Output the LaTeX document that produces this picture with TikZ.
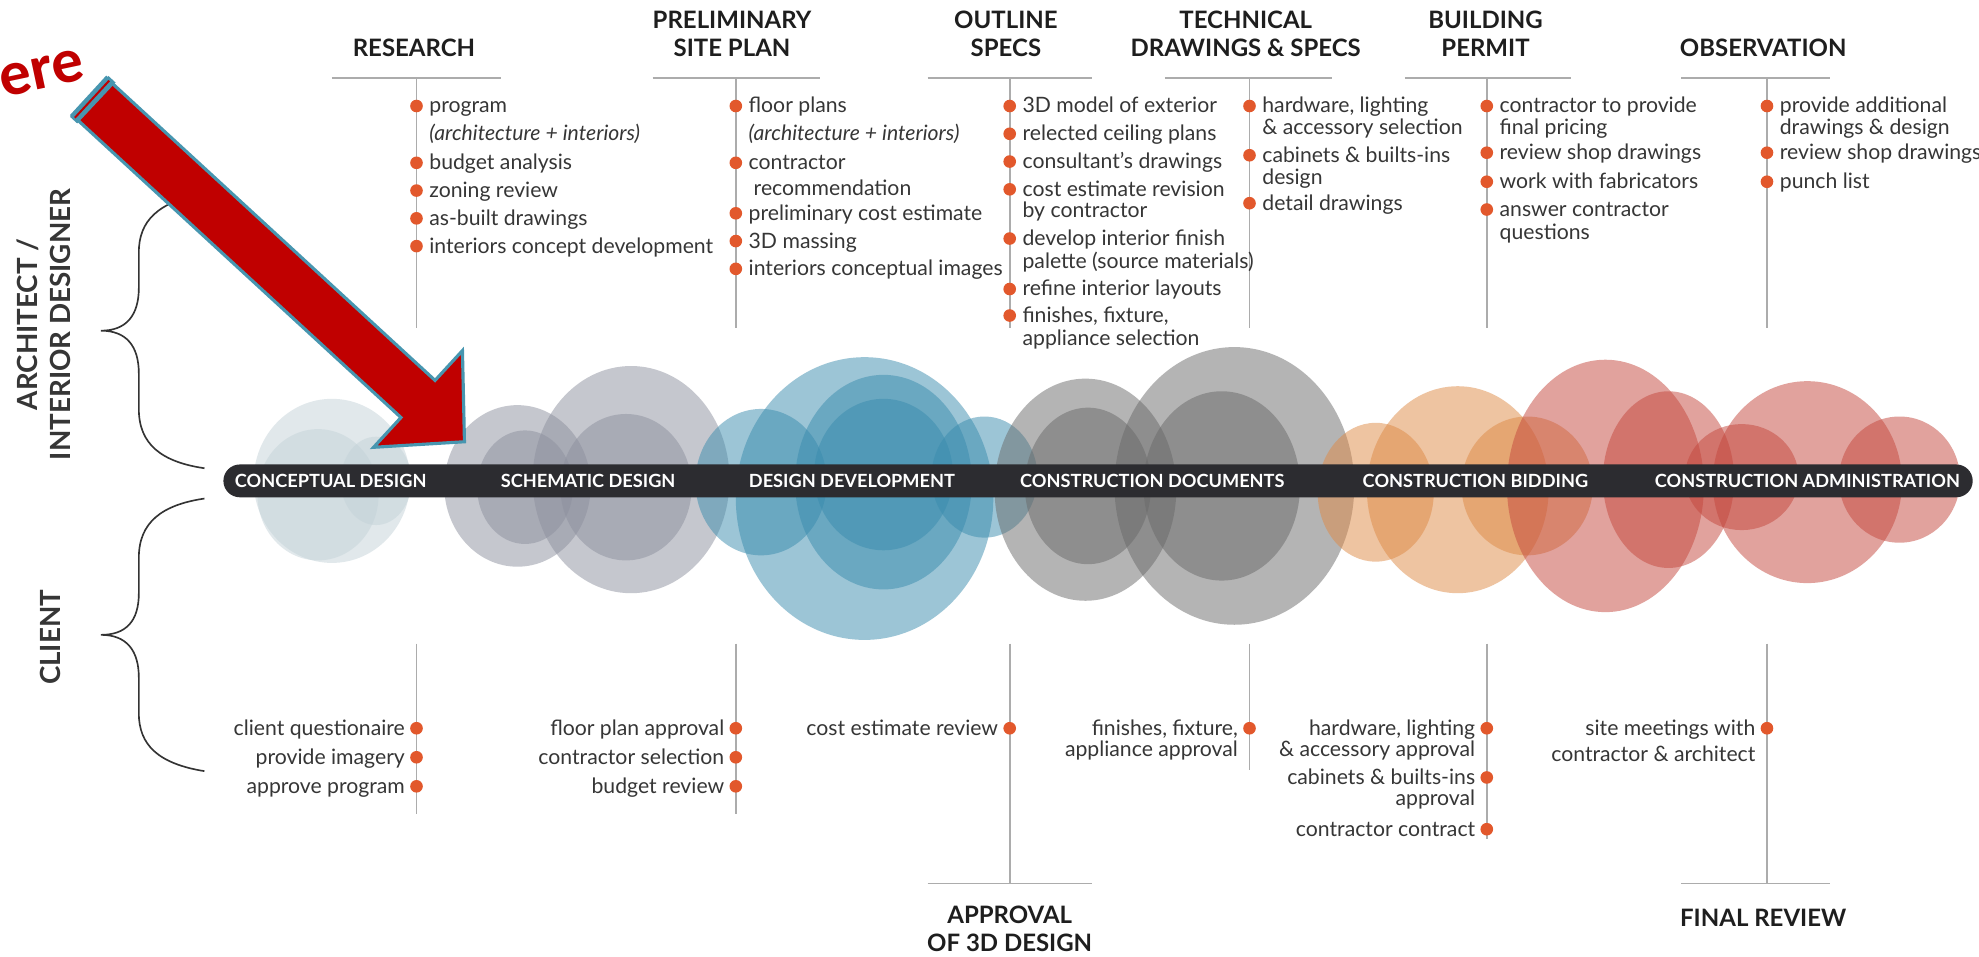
\documentclass[tikz,border=0pt]{standalone}
\usepackage{fontspec}
\setmainfont{Lato}
\newfontfamily\ereFont{Carlito}
\usetikzlibrary{calc}
\definecolor{txt}{HTML}{363636}
\definecolor{hd}{HTML}{1E1E1E}
\definecolor{vl}{HTML}{ACACAC}
\definecolor{dotcol}{HTML}{E2582C}
\definecolor{barcol}{HTML}{2C2C30}
\definecolor{arrred}{HTML}{C00000}
\definecolor{arrteal}{HTML}{4796B0}
\definecolor{cpt}{HTML}{C4D3D9}
\definecolor{sch}{HTML}{8D909E}
\definecolor{ddv}{HTML}{3A8CAE}
\definecolor{cdc}{HTML}{6A6A6A}
\definecolor{bid}{HTML}{DE8A45}
\definecolor{adm}{HTML}{C4473D}
\newcommand\TI[4]{\node[dotn] (#1d) at (#2,#3) {};
  \node[itm, anchor=base west] (#1) at ([xshift=10pt,yshift=-5.5pt]#2,#3) {#4};}
\newcommand\TC[4]{\node[itm, anchor=base west] (#1) at ([xshift=10pt,yshift=-5.5pt]#2,#3) {#4};}
\newcommand\BI[4]{\node[dotn] (#1d) at (#2,#3) {};
  \node[itm, anchor=base east] (#1) at ([xshift=-9pt,yshift=-5.5pt]#2,#3) {#4};}
\newcommand\BC[4]{\node[itm, anchor=base east] (#1) at ([xshift=-9pt,yshift=-5.5pt]#2,#3) {#4};}
\begin{document}
\begin{tikzpicture}[x=1pt,y=-1pt,
  vline/.style={draw=vl, line width=1.4pt},
  dotn/.style={circle, fill=dotcol, inner sep=0pt, minimum size=10pt},
  itm/.style={font=\fontsize{16.8}{18}\selectfont, text=txt, inner sep=0pt},
  head/.style={font=\fontsize{19}{22}\selectfont\bfseries, text=hd, inner sep=0pt, align=center},
  barlbl/.style={font=\fontsize{14.4}{16}\selectfont\bfseries, text=white, inner sep=0pt},
  side/.style={font=\fontsize{22}{26}\selectfont\bfseries, text=txt, inner sep=0pt, rotate=90},
  bracepath/.style={draw=black!80, line width=1.3pt},
  blob/.style={fill opacity=0.5}]
\useasboundingbox (0,0) rectangle (1568,757.5);
\fill[white] (0,0) rectangle (1568,757.5);

% ---------- circles ----------
\begin{scope}[blob]
\fill[cpt] (263,381) ellipse [x radius=62pt, y radius=65pt];
\fill[cpt] (252,392) ellipse [x radius=48pt, y radius=52pt];
\fill[cpt] (298,381) ellipse [x radius=28pt, y radius=35pt];
\fill[sch] (410,385) ellipse [x radius=58pt, y radius=64pt];
\fill[sch] (500,380) ellipse [x radius=78pt, y radius=90pt];
\fill[sch] (416,386) ellipse [x radius=38pt, y radius=45pt];
\fill[sch] (496,386) ellipse [x radius=52pt, y radius=58pt];
\fill[ddv] (603,382) ellipse [x radius=52pt, y radius=58pt];
\fill[ddv] (685,395) ellipse [x radius=102pt, y radius=112pt];
\fill[ddv] (700,382) ellipse [x radius=70pt, y radius=85pt];
\fill[ddv] (700,376) ellipse [x radius=55pt, y radius=60pt];
\fill[ddv] (780,378) ellipse [x radius=42pt, y radius=48pt];
\fill[cdc] (860,388) ellipse [x radius=72pt, y radius=88pt];
\fill[cdc] (978,385) ellipse [x radius=95pt, y radius=110pt];
\fill[cdc] (862,385) ellipse [x radius=50pt, y radius=62pt];
\fill[cdc] (968,385) ellipse [x radius=62pt, y radius=75pt];
\fill[bid] (1090,390) ellipse [x radius=46pt, y radius=55pt];
\fill[bid] (1155,388) ellipse [x radius=72pt, y radius=82pt];
\fill[bid] (1210,385) ellipse [x radius=52pt, y radius=55pt];
\fill[adm] (1272,385) ellipse [x radius=78pt, y radius=100pt];
\fill[adm] (1322,380) ellipse [x radius=52pt, y radius=70pt];
\fill[adm] (1380,378) ellipse [x radius=45pt, y radius=42pt];
\fill[adm] (1432,382) ellipse [x radius=75pt, y radius=80pt];
\fill[adm] (1505,380) ellipse [x radius=48pt, y radius=50pt];
\end{scope}

% ---------- timeline bar ----------
\node[fill=barcol, rounded corners=13pt, minimum width=1386pt, minimum height=26pt, inner sep=0pt] (bar) at (870,381) {};
\node[barlbl, anchor=base] (ph1) at ([yshift=-5.2pt]262,381) {CONCEPTUAL DESIGN};
\node[barlbl, anchor=base] (ph2) at ([yshift=-5.2pt]466,381) {SCHEMATIC DESIGN};
\node[barlbl, anchor=base] (ph3) at ([yshift=-5.2pt]675,381) {DESIGN DEVELOPMENT};
\node[barlbl, anchor=base] (ph4) at ([yshift=-5.2pt]913,381) {CONSTRUCTION DOCUMENTS};
\node[barlbl, anchor=base] (ph5) at ([yshift=-5.2pt]1169,381) {CONSTRUCTION BIDDING};
\node[barlbl, anchor=base] (ph6) at ([yshift=-5.2pt]1432,381) {CONSTRUCTION ADMINISTRATION};

% ---------- top columns: lines ----------
\foreach \nm/\x/\l/\r in {c1/330/263/397, c2/583/517/650, c3/800/735/865, c4/990/923/1055, c5/1178/1113/1245, c6/1400/1332/1450}{
  \coordinate (\nm t) at (\x,62);
  \coordinate (\nm b) at (\x,260);
  \coordinate (\nm l) at (\l,62);
  \coordinate (\nm r) at (\r,62);
  \draw[vline] (\nm l) -- (\nm r);
  \draw[vline] (\nm t) -- (\nm b);
}
\node[head, anchor=south] (hres) at (328,45) {RESEARCH};
\node[head, anchor=south] (hpre) at (580,45) {PRELIMINARY\\SITE PLAN};
\node[head, anchor=south] (hout) at (797,45) {OUTLINE\\SPECS};
\node[head, anchor=south] (htec) at (987,45) {TECHNICAL\\DRAWINGS \& SPECS};
\node[head, anchor=south] (hbui) at (1177,45) {BUILDING\\PERMIT};
\node[head, anchor=south] (hobs) at (1397,45) {OBSERVATION};

% research
\TI{r1}{330}{84}{program}
\TC{r1b}{330}{106}{\itshape (architecture + interiors)}
\TI{r2}{330}{129}{budget analysis}
\TI{r3}{330}{151}{zoning review}
\TI{r4}{330}{173}{as-built drawings}
\TI{r5}{330}{195}{interiors concept development}
% preliminary
\TI{p1}{583}{84}{floor plans}
\TC{p1b}{583}{106}{\itshape (architecture + interiors)}
\TI{p2}{583}{129}{contractor}
\TC{p2b}{587}{149}{recommendation}
\TI{p3}{583}{169}{preliminary cost estimate}
\TI{p4}{583}{191}{3D massing}
\TI{p5}{583}{213}{interiors conceptual images}
% outline
\TI{o1}{800}{84}{3D model of exterior}
\TI{o2}{800}{106}{relected ceiling plans}
\TI{o3}{800}{128}{consultant’s drawings}
\TI{o4}{800}{150}{cost estimate revision}
\TC{o4b}{800}{167}{by contractor}
\TI{o5}{800}{189}{develop interior finish}
\TC{o5b}{800}{207}{palette (source materials)}
\TI{o6}{800}{229}{refine interior layouts}
\TI{o7}{800}{250}{finishes, fixture,}
\TC{o7b}{800}{268}{appliance selection}
% technical
\TI{t1}{990}{84}{hardware, lighting}
\TC{t1b}{990}{101}{\& accessory selection}
\TI{t2}{990}{123}{cabinets \& builts-ins}
\TC{t2b}{990}{141}{design}
\TI{t3}{990}{161}{detail drawings}
% building permit
\TI{b1}{1178}{84}{contractor to provide}
\TC{b1b}{1178}{101}{final pricing}
\TI{b2}{1178}{121}{review shop drawings}
\TI{b3}{1178}{144}{work with fabricators}
\TI{b4}{1178}{166}{answer contractor}
\TC{b4b}{1178}{184}{questions}
% observation
\TI{v1}{1400}{84}{provide additional}
\TC{v1b}{1400}{101}{drawings \& design}
\TI{v2}{1400}{121}{review shop drawings}
\TI{v3}{1400}{144}{punch list}

% ---------- bottom columns ----------
\foreach \nm/\x/\b in {d1/330/645, d2/583/645, d3/800/700, d4/990/610, d5/1178/665, d6/1400/700}{
  \coordinate (\nm t) at (\x,510);
  \coordinate (\nm b) at (\x,\b);
  \draw[vline] (\nm t) -- (\nm b);
}
\coordinate (d3l) at (735,700); \coordinate (d3r) at (865,700);
\draw[vline] (d3l) -- (d3r);
\coordinate (d6l) at (1332,700); \coordinate (d6r) at (1450,700);
\draw[vline] (d6l) -- (d6r);
\node[head, anchor=north] (happ) at (800,718) {APPROVAL\\OF 3D DESIGN};
\node[head, anchor=north] (hfin) at (1397,720) {FINAL REVIEW};

\BI{k1}{330}{577}{client questionaire}
\BI{k2}{330}{600}{provide imagery}
\BI{k3}{330}{623}{approve program}
\BI{m1}{583}{577}{floor plan approval}
\BI{m2}{583}{600}{contractor selection}
\BI{m3}{583}{623}{budget review}
\BI{n1}{800}{577}{cost estimate review}
\BI{q1}{990}{577}{finishes, fixture,}
\BC{q1b}{990}{594}{appliance approval}
\BI{s1}{1178}{577}{hardware, lighting}
\BC{s1b}{1178}{594}{\& accessory approval}
\BI{s2}{1178}{616}{cabinets \& builts-ins}
\BC{s2b}{1178}{633}{approval}
\BI{s3}{1178}{657}{contractor contract}
\BI{w1}{1400}{577}{site meetings with}
\BC{w1b}{1400}{598}{contractor \& architect}

% ---------- side labels and braces ----------
\node[side] (sa1) at (22,257) {ARCHITECT /};
\node[side] (sa2) at (48,257) {INTERIOR DESIGNER};
\node[side] (scl) at (40,505) {CLIENT};
\draw[bracepath] (162,153) .. controls (125,160) and (110,175) .. (110,200) -- (110,228)
  .. controls (110,250) and (100,262) .. (80,262)
  .. controls (100,262) and (110,274) .. (110,296) -- (110,324)
  .. controls (110,352) and (128,366) .. (162,371);
\draw[bracepath] (162,395) .. controls (128,400) and (110,414) .. (110,442) -- (110,470)
  .. controls (110,492) and (100,503) .. (80,503)
  .. controls (100,503) and (110,515) .. (110,537) -- (110,565)
  .. controls (110,590) and (125,605) .. (162,611);

% ---------- red arrow ----------
\filldraw[fill=arrred, draw=arrteal, line width=2.5pt, line join=miter]
  (57.2,91.1) -- (317.7,330.8) -- (296,354.4) -- (368,350) -- (366.4,277.8) -- (344.7,301.4) -- (84.2,61.7) -- cycle;
\fill[arrteal] (55.5,92.6) -- (85.9,60.2) -- (91.6,65.4) -- (61.2,97.8) -- cycle;
\draw[arrred, line width=1.6pt] (59.3,93.3) -- (86.5,63.9);
\node[rotate=12, text=arrred, font=\ereFont\bfseries\fontsize{50}{52}\selectfont, inner sep=0pt] (ere) at (33,58) {ere};
\end{tikzpicture}
\end{document}
